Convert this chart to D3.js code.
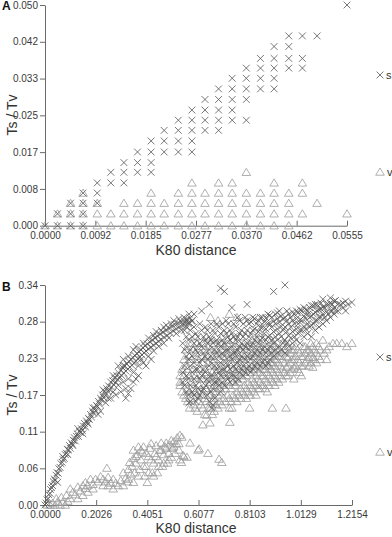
<!DOCTYPE html>
<html>
<head>
<meta charset="utf-8">
<script src="https://cdn.jsdelivr.net/npm/d3@7"></script>
<style>
  body { margin: 0; background: #fff; }
  svg { display: block; font-family: "Liberation Sans", Arial, sans-serif; }
</style>
</head>
<body>
<script>
// ---- panel A: discrete grid of distances / ratios ----
var aDist = [0, 0.0023, 0.0047, 0.0070, 0.0096, 0.0121, 0.0145, 0.0170, 0.0195, 0.0219, 0.0245, 0.0270,
  0.0294, 0.0319, 0.0344, 0.0370, 0.0396, 0.0421, 0.0448, 0.0473, 0.0500, 0.0527, 0.0555];
var aRatio = [0, 0.0027, 0.0051, 0.0074, 0.0097, 0.0121, 0.0143, 0.0167, 0.0192, 0.0216, 0.0239, 0.0262,
  0.0286, 0.0310, 0.0334, 0.0357, 0.0379, 0.0406, 0.0430, 0.0500];
// [ratio row, [distance columns]]
var aS = [[0,[0,1,2,3]],[1,[1,2,3]],[2,[2,3,4]],[3,[3,4]],[4,[4,5,6]],[5,[5,6,7,8]],[6,[6,7,8]],
  [7,[7,8,9,10,11]],[8,[8,9,10,11]],[9,[9,10,11,12,13]],[10,[10,11,12,13,14,15]],[11,[11,12,13,14]],
  [12,[12,13,14,15]],[13,[13,14,15,16,17]],[14,[14,15,16,17]],[15,[15,16,17,18,19]],[16,[16,17,18,19]],
  [17,[17,18]],[18,[18,19,20]],[19,[22]]];
var aV = [[0,[0,1,2,3,4,5,6,7,8,9,10,11,12,13,14,15,16,17,18]],
  [1,[1,2,3,4,5,6,7,8,9,10,11,12,13,14,15,16,17,18,19,22]],
  [2,[2,3,4,6,7,8,9,10,11,12,13,14,15,16,17,18,20]],
  [3,[3,8,10,11,12,13,14,15,16,17,18,19]],
  [4,[11,13,14,17,19]],
  [5,[15]]];
var aXTicks = ["0.0000","0.0092","0.0185","0.0277","0.0370","0.0462","0.0555"];
var aYTicks = ["0.000","0.008","0.017","0.025","0.033","0.042","0.050"];

// ---- panel B ----
var bSBand = [[0.000,0.000],[0.004,0.003],[0.008,0.008],[0.012,0.010],[0.015,0.016],[0.020,0.018],[0.022,0.024],
  [0.026,0.027],[0.030,0.030],[0.033,0.036],[0.037,0.040],[0.040,0.038],[0.044,0.046],[0.048,0.050],[0.052,0.049],
  [0.055,0.056],[0.060,0.058],[0.063,0.064],[0.068,0.066],[0.072,0.070],[0.076,0.072],[0.080,0.078],[0.085,0.080],
  [0.088,0.086],[0.093,0.085],[0.097,0.092],[0.100,0.088],[0.104,0.096],[0.108,0.094],[0.112,0.100],[0.116,0.104],
  [0.120,0.099],[0.124,0.106],[0.128,0.110],[0.132,0.106],[0.136,0.114],[0.140,0.112],[0.144,0.118],[0.148,0.115],
  [0.152,0.122],[0.156,0.126],[0.160,0.121],[0.164,0.130],[0.168,0.127],[0.172,0.134],[0.176,0.132],[0.180,0.140],
  [0.184,0.136],[0.188,0.145],[0.192,0.142],[0.196,0.150],[0.200,0.146],[0.204,0.154],[0.208,0.152],[0.212,0.160],
  [0.216,0.156],[0.220,0.165],[0.224,0.162],[0.228,0.170],[0.232,0.166],[0.236,0.175],[0.240,0.170],[0.244,0.180],
  [0.248,0.176],[0.252,0.184],[0.256,0.178],[0.260,0.190],[0.264,0.182],[0.268,0.192],[0.272,0.186],[0.276,0.196],
  [0.280,0.190],[0.284,0.200],[0.288,0.194],[0.292,0.204],[0.296,0.198],[0.300,0.208],[0.304,0.200],[0.308,0.212],
  [0.312,0.204],[0.316,0.215],[0.320,0.207],[0.324,0.218],[0.328,0.210],[0.332,0.222],[0.336,0.213],[0.340,0.225],
  [0.344,0.216],[0.348,0.228],[0.352,0.219],[0.356,0.231],[0.360,0.222],[0.364,0.234],[0.368,0.226],[0.372,0.237],
  [0.376,0.229],[0.380,0.240],[0.384,0.232],[0.388,0.243],[0.392,0.235],[0.396,0.246],[0.400,0.238],[0.405,0.249],
  [0.410,0.241],[0.415,0.252],[0.420,0.244],[0.425,0.255],[0.430,0.247],[0.435,0.258],[0.440,0.250],[0.445,0.261],
  [0.450,0.253],[0.455,0.264],[0.460,0.256],[0.466,0.267],[0.472,0.259],[0.478,0.270],[0.484,0.262],[0.490,0.273],
  [0.496,0.266],[0.502,0.276],[0.508,0.269],[0.514,0.279],[0.520,0.272],[0.526,0.281],[0.532,0.275],[0.538,0.283],
  [0.544,0.278],[0.550,0.285],[0.556,0.280],[0.562,0.287],[0.568,0.282],[0.575,0.289],[0.582,0.284],
  [0.300,0.175],[0.320,0.180],[0.330,0.172],[0.350,0.190],[0.280,0.170],[0.260,0.165],[0.370,0.200],[0.400,0.215],
  [0.420,0.225],[0.240,0.158],[0.220,0.145],[0.290,0.215],[0.310,0.225],[0.350,0.240],[0.390,0.250],[0.430,0.262],
  [0.470,0.275],[0.510,0.285],[0.550,0.290]];
// scatter around the band
var bSNoise = [[0.05,0.035],[0.07,0.075],[0.09,0.078],[0.11,0.092],[0.13,0.118],[0.15,0.110],[0.17,0.125],[0.19,0.150],
  [0.21,0.140],[0.23,0.178],[0.25,0.165],[0.27,0.200],[0.27,0.175],[0.29,0.185],[0.31,0.190],[0.31,0.215],[0.33,0.195],
  [0.33,0.230],[0.35,0.205],[0.36,0.245],[0.37,0.215],[0.38,0.225],[0.39,0.220],[0.41,0.230],[0.41,0.258],[0.43,0.238],
  [0.44,0.268],[0.45,0.245],[0.46,0.270],[0.47,0.250],[0.48,0.278],[0.49,0.258],[0.50,0.280],[0.52,0.265],[0.53,0.288],
  [0.54,0.270],[0.56,0.275],[0.57,0.295],[0.32,0.165],[0.34,0.180],[0.36,0.195]];
// right cloud, [distance, [ratios]]
var bSCloud = [[0.545,[0.19,0.205,0.25]],[0.56,[0.175,0.20,0.23,0.26,0.285]],[0.575,[0.16,0.185,0.215,0.24,0.27]],
  [0.59,[0.17,0.195,0.22,0.25,0.275,0.295]],[0.605,[0.165,0.18,0.21,0.235,0.26]],[0.62,[0.175,0.20,0.225,0.245,0.27,0.30]],
  [0.635,[0.185,0.205,0.23,0.255,0.275]],[0.65,[0.16,0.19,0.215,0.24,0.26,0.31]],[0.665,[0.155,0.18,0.20,0.225,0.25,0.27]],
  [0.68,[0.19,0.21,0.235,0.255,0.28]],[0.695,[0.175,0.20,0.22,0.245,0.265,0.335]],[0.71,[0.185,0.21,0.23,0.25,0.27,0.33]],
  [0.725,[0.195,0.215,0.24,0.26,0.28]],[0.74,[0.20,0.225,0.245,0.265,0.305]],[0.755,[0.19,0.21,0.235,0.255,0.275]],
  [0.77,[0.205,0.225,0.245,0.265,0.285]],[0.785,[0.20,0.215,0.24,0.26,0.28]],[0.80,[0.21,0.23,0.25,0.27,0.285,0.31]],
  [0.815,[0.205,0.225,0.245,0.265,0.283]],[0.83,[0.215,0.235,0.255,0.272,0.288]],[0.845,[0.21,0.23,0.25,0.268,0.285]],
  [0.86,[0.22,0.24,0.258,0.275,0.29]],[0.875,[0.215,0.235,0.255,0.272,0.289]],[0.89,[0.225,0.245,0.262,0.28,0.293]],
  [0.905,[0.23,0.25,0.268,0.284,0.33]],[0.92,[0.235,0.255,0.272,0.288,0.297]],[0.935,[0.24,0.26,0.276,0.292]],
  [0.95,[0.235,0.255,0.275,0.29,0.34]],[0.965,[0.245,0.262,0.28,0.295]],[0.98,[0.25,0.268,0.285,0.298]],
  [0.995,[0.255,0.272,0.288,0.30]],[1.01,[0.25,0.27,0.286,0.302]],[1.025,[0.26,0.276,0.292,0.305]],
  [1.04,[0.265,0.28,0.295,0.30]],[1.055,[0.26,0.278,0.292,0.308]],[1.07,[0.27,0.285,0.298,0.31]],
  [1.085,[0.275,0.29,0.302]],[1.10,[0.28,0.295,0.306,0.318]],[1.115,[0.285,0.298,0.31]],[1.13,[0.29,0.30,0.312,0.32]],
  [1.145,[0.295,0.305,0.315]],[1.16,[0.30,0.31]],[1.18,[0.305,0.312]],[1.215,[0.313]],[0.57,[0.158]],[0.66,[0.15]],
  [0.5525,[0.185,0.215,0.24,0.27]],[0.5675,[0.17,0.195,0.225,0.255,0.28]],[0.5825,[0.175,0.205,0.23,0.26,0.285]],
  [0.5975,[0.16,0.185,0.21,0.24,0.265]],[0.6125,[0.17,0.195,0.22,0.25,0.28]],[0.6275,[0.18,0.21,0.235,0.26]],
  [0.6425,[0.17,0.195,0.225,0.25,0.27]],[0.6575,[0.175,0.20,0.23,0.255,0.28]],[0.6725,[0.165,0.19,0.215,0.24,0.265]],
  [0.6875,[0.185,0.205,0.23,0.25,0.275]],[0.7025,[0.19,0.21,0.235,0.255,0.28]],[0.7175,[0.20,0.22,0.24,0.265,0.285]],
  [0.7325,[0.19,0.21,0.23,0.255,0.27]],[0.7475,[0.20,0.215,0.235,0.26,0.28]],[0.7625,[0.195,0.22,0.24,0.26,0.29]],
  [0.7775,[0.21,0.23,0.25,0.27]],[0.7925,[0.205,0.225,0.245,0.265,0.29]],[0.8075,[0.215,0.24,0.26,0.28]],
  [0.8225,[0.21,0.23,0.25,0.27,0.29]],[0.8375,[0.22,0.24,0.26,0.28]],[0.8525,[0.215,0.235,0.255,0.275,0.29]],
  [0.8675,[0.225,0.245,0.265,0.283]],[0.8825,[0.22,0.24,0.26,0.28,0.295]],[0.8975,[0.235,0.255,0.275,0.29]],
  [0.9125,[0.24,0.26,0.28,0.295]],[0.9275,[0.245,0.265,0.283,0.30]],[0.9425,[0.25,0.27,0.287]],
  [0.9575,[0.25,0.268,0.285,0.30]],[0.9725,[0.258,0.275,0.29]],[0.9875,[0.26,0.28,0.295]],[1.0025,[0.265,0.28,0.297]],
  [1.0175,[0.27,0.285,0.30]],[1.0325,[0.272,0.288,0.302]],[1.0475,[0.275,0.29,0.305]],[1.0625,[0.28,0.295,0.308]],
  [1.0775,[0.285,0.30,0.31]],[1.0925,[0.29,0.303,0.312]],[1.1075,[0.29,0.305]],[1.1225,[0.295,0.31]],
  [1.1375,[0.30,0.31]],[1.15,[0.30,0.316]],[1.17,[0.31]],[1.19,[0.30,0.315]],[1.20,[0.31]]];
var bVLow = [[0.01,0.0],[0.02,0.0],[0.03,0.003],[0.04,0.0],[0.05,0.005],[0.06,0.0],[0.07,0.004],[0.08,0.0],[0.09,0.006],
  [0.045,0.01],[0.065,0.012],[0.085,0.015],[0.10,0.01],[0.11,0.02],[0.12,0.016],[0.10,0.025],[0.13,0.028],[0.14,0.022],
  [0.15,0.03],[0.16,0.026],[0.16,0.035],[0.17,0.03],[0.18,0.04],[0.19,0.032],[0.20,0.04],[0.21,0.036],[0.22,0.044],
  [0.23,0.04],[0.24,0.036],[0.245,0.057],[0.25,0.043],[0.26,0.034],[0.27,0.04],[0.28,0.034],[0.29,0.03],[0.30,0.038],
  [0.31,0.05],[0.32,0.042],[0.325,0.036],[0.33,0.055],[0.335,0.066],[0.34,0.048],[0.345,0.06],[0.35,0.072],[0.35,0.085],
  [0.355,0.05],[0.36,0.065],[0.365,0.078],[0.37,0.09],[0.375,0.055],[0.38,0.07],[0.385,0.082],[0.39,0.09],[0.395,0.045],
  [0.40,0.06],[0.405,0.035],[0.41,0.075],[0.415,0.088],[0.42,0.095],[0.425,0.05],[0.43,0.065],[0.435,0.08],[0.44,0.092],
  [0.445,0.05],[0.45,0.07],[0.455,0.085],[0.46,0.096],[0.465,0.06],[0.47,0.078],[0.475,0.09],[0.48,0.096],[0.485,0.065],
  [0.49,0.08],[0.495,0.093],[0.50,0.074],[0.505,0.088],[0.51,0.098],[0.515,0.08],[0.52,0.095],[0.523,0.104],[0.53,0.085],
  [0.534,0.108],[0.54,0.066],[0.55,0.075],[0.562,0.074],[0.574,0.096],[0.606,0.085],[0.542,0.105],[0.534,0.07],
  [0.546,0.077],[0.61,0.087],[0.645,0.08],[0.689,0.071],[0.70,0.066],[0.625,0.124],[0.653,0.127],[0.64,0.139],
  [0.732,0.128],[0.74,0.15],[0.81,0.15],[0.90,0.15],[0.954,0.15],
  [0.31,0.03],[0.33,0.04],[0.35,0.035],[0.37,0.045],[0.39,0.06],[0.41,0.05],[0.43,0.045],[0.45,0.06],[0.47,0.065],
  [0.49,0.07],[0.51,0.09],[0.53,0.095],[0.44,0.075],[0.46,0.085],[0.48,0.088],[0.50,0.10],[0.36,0.075],[0.38,0.085],
  [0.40,0.08],[0.42,0.07],[0.25,0.03],[0.27,0.025],[0.23,0.03],[0.19,0.025],[0.17,0.02],[0.15,0.015],[0.13,0.01]];
var bVCloud = [[0.535,[0.185,0.19,0.20]],[0.55,[0.17,0.20,0.225]],[0.565,[0.16,0.18,0.21,0.245]],[0.58,[0.165,0.19,0.225,0.25]],
  [0.595,[0.15,0.175,0.20,0.235,0.26]],[0.61,[0.16,0.185,0.21,0.245]],[0.625,[0.15,0.17,0.195,0.22,0.25]],
  [0.64,[0.16,0.18,0.205,0.23,0.26]],[0.655,[0.15,0.17,0.19,0.215,0.24,0.29]],[0.67,[0.145,0.165,0.185,0.20,0.225,0.25]],
  [0.685,[0.15,0.17,0.19,0.21,0.235,0.285]],[0.70,[0.155,0.175,0.195,0.215,0.24,0.26]],[0.715,[0.16,0.18,0.20,0.22,0.245]],
  [0.73,[0.15,0.165,0.185,0.205,0.228,0.25,0.295]],[0.745,[0.17,0.19,0.21,0.232,0.255]],[0.76,[0.16,0.175,0.195,0.215,0.235,0.29]],
  [0.775,[0.165,0.18,0.20,0.22,0.24,0.26]],[0.79,[0.17,0.185,0.205,0.225,0.245]],[0.805,[0.175,0.19,0.21,0.23,0.25]],
  [0.82,[0.18,0.195,0.215,0.235,0.255]],[0.835,[0.17,0.185,0.20,0.22,0.24]],[0.85,[0.18,0.19,0.205,0.225,0.245,0.265]],
  [0.865,[0.185,0.20,0.21,0.23,0.25]],[0.88,[0.175,0.19,0.205,0.215,0.235]],[0.895,[0.195,0.21,0.22,0.24,0.255]],
  [0.91,[0.185,0.20,0.215,0.225,0.245]],[0.925,[0.19,0.205,0.22,0.23]],[0.94,[0.195,0.21,0.225,0.235,0.25]],
  [0.955,[0.20,0.213,0.23,0.24]],[0.97,[0.205,0.22,0.235]],[0.985,[0.195,0.212,0.225,0.24]],[1.00,[0.21,0.225,0.24]],
  [1.015,[0.20,0.215,0.23]],[1.03,[0.22,0.235,0.245]],[1.045,[0.215,0.228,0.24]],[1.06,[0.213,0.228,0.245]],
  [1.075,[0.22,0.235,0.25]],[1.09,[0.225,0.24]],[1.10,[0.255]],[1.115,[0.225,0.24]],[1.14,[0.25]],[1.175,[0.25]],[1.215,[0.25]],
  [0.5425,[0.175,0.21]],[0.5575,[0.165,0.19,0.215,0.24]],[0.5725,[0.15,0.175,0.20,0.23]],[0.5875,[0.155,0.18,0.21,0.24]],
  [0.6025,[0.145,0.17,0.195,0.225,0.25]],[0.6175,[0.155,0.175,0.20,0.23]],[0.6325,[0.14,0.165,0.185,0.21,0.24]],
  [0.6475,[0.15,0.17,0.195,0.22,0.245]],[0.6625,[0.14,0.16,0.18,0.205,0.23,0.255]],[0.6775,[0.155,0.175,0.195,0.215,0.24]],
  [0.6925,[0.16,0.18,0.20,0.225,0.25]],[0.7075,[0.165,0.185,0.205,0.23]],[0.7225,[0.17,0.19,0.21,0.235,0.255]],
  [0.7375,[0.16,0.18,0.20,0.22,0.24]],[0.7525,[0.165,0.185,0.205,0.225,0.245]],[0.7675,[0.17,0.19,0.21,0.23,0.25]],
  [0.7825,[0.175,0.195,0.215,0.235]],[0.7975,[0.165,0.18,0.20,0.22,0.24]],[0.8125,[0.17,0.185,0.205,0.225,0.245]],
  [0.8275,[0.175,0.19,0.21,0.23]],[0.8425,[0.18,0.195,0.215,0.235,0.25]],[0.8575,[0.185,0.20,0.22,0.24]],
  [0.8725,[0.18,0.195,0.21,0.225,0.245]],[0.8875,[0.185,0.20,0.215,0.23]],[0.9025,[0.19,0.205,0.22,0.235,0.25]],
  [0.9175,[0.195,0.21,0.225,0.24]],[0.9325,[0.20,0.215,0.23]],[0.9475,[0.205,0.22,0.24]],[0.9625,[0.20,0.215,0.228,0.245]],
  [0.9775,[0.21,0.225,0.24]],[0.9925,[0.215,0.23,0.245]],[1.0075,[0.205,0.22,0.235]],[1.0225,[0.215,0.23,0.245]],
  [1.0375,[0.225,0.24]],[1.0525,[0.22,0.235,0.25]],[1.0675,[0.225,0.24]],[1.0825,[0.23,0.245]],[1.105,[0.235]],
  [1.125,[0.245]],[1.155,[0.25]],[1.195,[0.245]]];
var bXTicks = ["0.0000","0.2026","0.4051","0.6077","0.8103","1.0129","1.2154"];
var bYTicks = ["0.00","0.06","0.11","0.17","0.23","0.28","0.34"];

var svg = d3.select("body").append("svg").attr("width", 392).attr("height", 537);

var cross = "M-3.4,-3.4L3.4,3.4M-3.4,3.4L3.4,-3.4";
var tri = "M0,-4L4.3,3.2L-4.3,3.2Z";

function drawPanel(p) {
  var x = d3.scaleLinear().domain([0, p.xMax]).range([45, p.xEnd]);
  var y = d3.scaleLinear().domain([0, p.yMax]).range([p.yZero, p.yTop]);
  var g = svg.append("g");

  var xAxis = d3.axisBottom(x)
    .tickValues(d3.range(7).map(function(i) { return p.xMax * i / 6; }))
    .tickFormat(function(d, i) { return p.xTicks[i]; })
    .tickSizeInner(-5).tickSizeOuter(0).tickPadding(6);
  var yAxis = d3.axisLeft(y)
    .tickValues(d3.range(7).map(function(i) { return p.yMax * i / 6; }))
    .tickFormat(function(d, i) { return p.yTicks[i]; })
    .tickSizeInner(5).tickSizeOuter(0).tickPadding(2);

  [g.append("g").attr("transform", "translate(0," + p.yZero + ")").call(xAxis),
   g.append("g").attr("transform", "translate(45,0)").call(yAxis)].forEach(function(a) {
    a.selectAll("path, line").attr("stroke", "#6a6a6a");
    a.selectAll("text").attr("fill", "#3a3a3a").style("font-size", "10px")
      .style("font-family", "'Liberation Sans', Arial, sans-serif");
  });

  // v first, s drawn on top
  g.append("g").selectAll("path").data(p.v).enter().append("path")
    .attr("d", tri)
    .attr("transform", function(d) { return "translate(" + x(d[0]) + "," + y(d[1]) + ")"; })
    .attr("fill", "none").attr("stroke", "#9c9c9c").attr("stroke-width", 0.8);
  g.append("g").selectAll("path").data(p.s).enter().append("path")
    .attr("d", cross)
    .attr("transform", function(d) { return "translate(" + x(d[0]) + "," + y(d[1]) + ")"; })
    .attr("fill", "none").attr("stroke", "#555").attr("stroke-width", 0.8);

  // titles
  g.append("text").attr("x", 2).attr("y", p.labelY).text(p.label)
    .style("font-size", "12px").style("font-weight", "bold").attr("fill", "#111");
  g.append("text").attr("transform", "translate(17," + p.yTitleY + ") rotate(-90)")
    .attr("text-anchor", "middle").text("Ts / Tv")
    .style("font-size", "14px").attr("fill", "#333");
  g.append("text").attr("x", 196).attr("y", p.xTitleY).attr("text-anchor", "middle")
    .text("K80 distance").style("font-size", "14px").attr("fill", "#333");

  // legend
  g.append("path").attr("d", cross).attr("transform", "translate(380," + p.legS + ")")
    .attr("fill", "none").attr("stroke", "#555").attr("stroke-width", 0.8);
  g.append("text").attr("x", 386).attr("y", p.legS + 4).text("s").style("font-size", "11px").attr("fill", "#333");
  g.append("path").attr("d", tri).attr("transform", "translate(380," + p.legV + ")")
    .attr("fill", "none").attr("stroke", "#9c9c9c").attr("stroke-width", 0.8);
  g.append("text").attr("x", 387).attr("y", p.legV + 4).text("v").style("font-size", "11px").attr("fill", "#333");
}

function fromRows(rows) {
  var out = [];
  rows.forEach(function(r) { r[1].forEach(function(c) { out.push([aDist[c], aRatio[r[0]]]); }); });
  return out;
}
function fromCols(cols) {
  var out = [];
  cols.forEach(function(c) { c[1].forEach(function(v) { out.push([c[0], v]); }); });
  return out;
}

drawPanel({
  xMax: 0.0555, yMax: 0.05, xEnd: 347, yZero: 225.7, yTop: 5,
  xTicks: aXTicks, yTicks: aYTicks, s: fromRows(aS), v: fromRows(aV),
  label: "A", labelY: 10, yTitleY: 115, xTitleY: 255, legS: 75, legV: 172
});
drawPanel({
  xMax: 1.2154, yMax: 0.34, xEnd: 352, yZero: 505, yTop: 285,
  xTicks: bXTicks, yTicks: bYTicks,
  s: bSBand.concat(bSNoise, fromCols(bSCloud)), v: bVLow.concat(fromCols(bVCloud)),
  label: "B", labelY: 291, yTitleY: 395, xTitleY: 533, legS: 357, legV: 452
});
</script>
</body>
</html>
